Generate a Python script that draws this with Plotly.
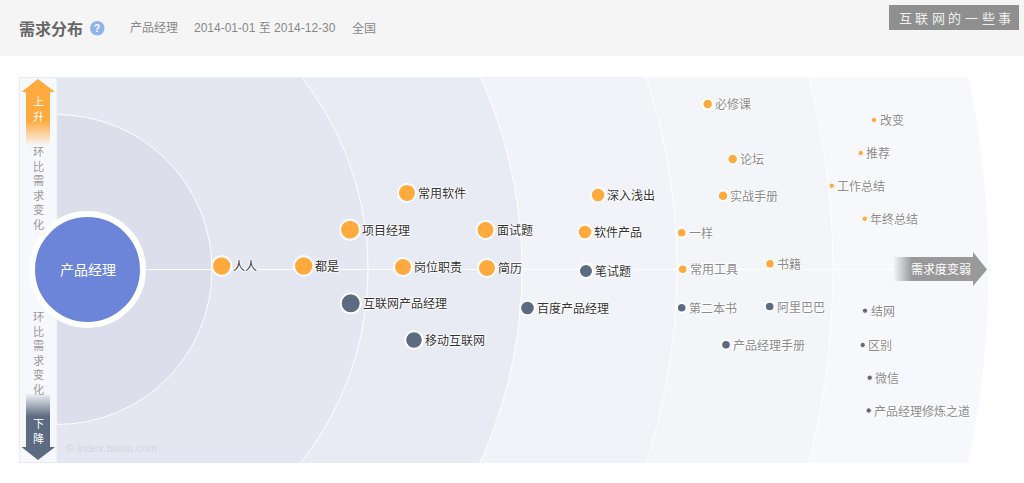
import plotly.graph_objects as go

W, H = 1024, 483
CJK = "Noto Sans CJK SC"

# ---- data (axis units are chart pixels) ----
center_name = "产品经理"
center_x, center_y = 87.5, 269.5
origin_x = 57
ring_radii = [931, 776, 620, 465, 311, 155]
ring_colors = ["#F7F8FB", "#F4F5F9", "#F1F3F8", "#E9EBF4", "#E4E6F1", "#DCDFEB"]

labels = ["人人", "都是", "岗位职责", "简历", "笔试题", "常用软件", "项目经理", "面试题", "深入浅出", "软件产品",
          "互联网产品经理", "移动互联网", "百度产品经理", "必修课", "论坛", "实战手册", "一样", "常用工具", "书籍",
          "第二本书", "阿里巴巴", "产品经理手册", "改变", "推荐", "工作总结", "年终总结", "结网", "区别", "微信",
          "产品经理修炼之道"]
demand = [221.7, 303.7, 403, 487, 586, 407, 350, 485.5, 598, 585,
          350.7, 414, 527.5, 707.7, 732.7, 723, 681.7, 682.7, 770,
          681.7, 769.7, 726, 874, 860.7, 831.7, 864.7, 865, 862.7, 869.7, 868.7]
change = [266, 266, 267, 268, 271, 193, 229.7, 230, 195, 232,
          303.3, 340, 308, 104, 159, 195.7, 232.7, 269.3, 263.7,
          307.7, 306.5, 344.7, 120, 153, 185.7, 218.7, 310.7, 345, 377.7, 410.5]
radius = [8.7, 8.7, 8, 8, 6, 8, 9, 8, 6.3, 6.3,
          9, 7.8, 6.3, 4.3, 4.3, 4.3, 3.8, 3.8, 3.8,
          3.8, 3.8, 3.8, 2.2, 2.2, 2.2, 2.2, 2.2, 2.2, 2.2, 2.2]
trend = ["up", "up", "up", "up", "down", "up", "up", "up", "up", "up",
         "down", "down", "down", "up", "up", "up", "up", "up", "up",
         "down", "down", "down", "up", "up", "up", "up", "down", "down", "down", "down"]
label_dark = [True] * 13 + [False] * 17

title = "需求分布"
subtitle_parts = [("产品经理", 130), ("2014-01-01 至 2014-12-30", 194), ("全国", 351.5)]
side_label = "环比需求变化"
up_label, down_label = "上升", "下降"
right_label = "需求度变弱"
watermark = "互联网的一些事"
credit = "© index.baidu.com"

ORANGE, SLATE, BLUE = "#FFAA3E", "#5C6B82", "#6C85D8"
HALO = "1px 0 1px #fff, -1px 0 1px #fff, 0 1px 1px #fff, 0 -1px 1px #fff"
LATIN_CJK = "Liberation Sans, " + CJK

fig = go.Figure()
shapes, annos = [], []


def px(x):
    return x / W


def py(y):
    return 1 - y / H


def text_paper(x, y, s, size=12, color="#888", anchor="left", weight="normal", family=CJK):
    annos.append(dict(xref="paper", yref="paper", x=px(x), y=py(y), text=s, showarrow=False,
                      xanchor=anchor, yanchor="middle", borderpad=0,
                      font=dict(size=size, color=color, family=family, weight=weight)))


def text_data(x, y, s, size=12, color="#888", anchor="center", xshift=0, shadow="none", weight="normal", family=CJK):
    annos.append(dict(xref="x", yref="y", x=x, y=y, text=s, showarrow=False, xshift=xshift,
                      xanchor=anchor, yanchor="middle", borderpad=0,
                      font=dict(size=size, color=color, family=family, shadow=shadow, weight=weight)))


# header
shapes.append(dict(type="rect", xref="paper", yref="paper", x0=0, x1=1, y0=py(56), y1=1,
                   fillcolor="#F5F5F5", line_width=0, layer="below"))
text_paper(18, 27.5, title, size=16, color="#666", weight="bold")
shapes.append(dict(type="circle", xref="paper", yref="paper", x0=px(90), x1=px(104.5), y0=py(35.5), y1=py(21),
                   fillcolor="#8FB3EA", line_width=0, layer="below"))
text_paper(97.2, 28.5, "?", size=10, color="#FFFFFF", anchor="center", weight="bold", family="Liberation Sans")
for part, xpos in subtitle_parts:
    text_paper(xpos - 1, 28.5, part, size=12, color="#888", family=LATIN_CJK)
shapes.append(dict(type="rect", xref="paper", yref="paper", x0=px(889), x1=px(1019), y0=py(30), y1=py(5),
                   fillcolor="#8F8F8F", line_width=0, layer="below"))
for i, ch in enumerate(watermark):
    text_paper(905 + i * 16.6, 17.5, ch, size=13, color="#F0F0F0", anchor="center")

# rings (clipped by the plot area)
for r, c in zip(ring_radii, ring_colors):
    shapes.append(dict(type="circle", xref="x", yref="y", x0=origin_x - r, x1=origin_x + r,
                       y0=center_y - r, y1=center_y + r, fillcolor=c, layer="below",
                       line=dict(color="#FFFFFF" if r != ring_radii[0] else c, width=1)))
# horizontal guide
shapes.append(dict(type="line", xref="x", yref="y", x0=center_x, x1=900, y0=269.5, y1=269.5,
                   line=dict(color="#FFFFFF", width=1), layer="below"))
# left strip
shapes.append(dict(type="rect", xref="x", yref="y", x0=19.5, x1=57, y0=77.5, y1=462.5,
                   fillcolor="#F7F8FB", line=dict(color="#E8EAF2", width=1), layer="below"))
shapes.append(dict(type="line", xref="x", yref="y", x0=57, x1=640, y0=77.5, y1=77.5,
                   line=dict(color="#ECEEF5", width=1), layer="below"))

# gradient arrows
fig.add_trace(go.Scatter(
    x=[38, 55, 50, 50, 26, 26, 21.5, 38], y=[79, 92, 92, 146, 146, 92, 92, 79],
    mode="lines", line_width=0, fill="toself", hoverinfo="skip", cliponaxis=False,
    fillgradient=dict(type="vertical", colorscale=[[0, "rgba(255,170,62,0)"], [0.38, "rgba(255,170,62,1)"], [1, "rgba(255,170,62,1)"]])))
fig.add_trace(go.Scatter(
    x=[26, 50, 50, 55, 38, 21.5, 26, 26], y=[393, 393, 447, 447, 460, 447, 447, 393],
    mode="lines", line_width=0, fill="toself", hoverinfo="skip", cliponaxis=False,
    fillgradient=dict(type="vertical", colorscale=[[0, "rgba(92,107,130,1)"], [0.65, "rgba(92,107,130,1)"], [1, "rgba(92,107,130,0)"]])))
fig.add_trace(go.Scatter(
    x=[893, 973, 973, 987, 973, 973, 893, 893], y=[257, 257, 252, 269.5, 286, 281, 281, 257],
    mode="lines", line_width=0, fill="toself", hoverinfo="skip", cliponaxis=False,
    fillgradient=dict(type="horizontal", colorscale=[[0, "rgba(153,153,153,0)"], [0.2, "rgba(153,153,153,1)"], [1, "rgba(153,153,153,1)"]])))

# center node
fig.add_trace(go.Scatter(x=[center_x], y=[center_y], mode="markers", hoverinfo="skip", cliponaxis=False,
                         marker=dict(size=111, color=BLUE, opacity=1, line=dict(color="#FFFFFF", width=6))))
# word nodes
for t, col in (("up", ORANGE), ("down", SLATE)):
    idx = [i for i, v in enumerate(trend) if v == t]
    fig.add_trace(go.Scatter(
        x=[demand[i] for i in idx], y=[change[i] for i in idx], mode="markers", hoverinfo="text",
        text=[labels[i] for i in idx], cliponaxis=False,
        marker=dict(size=[2 * radius[i] + (2 if radius[i] > 3 else 1) for i in idx], color=col, opacity=1,
                    line=dict(color="#FFFFFF", width=[2 if radius[i] > 3 else 1 for i in idx]))))

# texts
text_data(center_x, center_y - 0.5, center_name, size=14, color="#FFFFFF")
for i, s in enumerate(labels):
    gap = 2 if radius[i] > 3 else 2.5
    text_data(demand[i], change[i] - 0.5, s, size=12, color="#333333" if label_dark[i] else "#8C8C8C",
              anchor="left", xshift=radius[i] + gap, shadow=HALO)
text_data(38, 187.5, "<br>".join(side_label), size=11.2, color="#999999")
text_data(38, 352, "<br>".join(side_label), size=11.2, color="#999999")
text_data(38, 108.5, "<br>".join(up_label), size=11.2, color="#FFFFFF")
text_data(38, 430, "<br>".join(down_label), size=11.2, color="#FFFFFF")
text_data(940.5, 268.5, right_label, size=12, color="#FFFFFF")
text_data(65, 448, credit, size=11, color="#D5D7E0", anchor="left", family="Liberation Sans")

fig.update_layout(
    width=W, height=H, margin=dict(l=0, r=0, t=0, b=0), showlegend=False,
    paper_bgcolor="#FFFFFF", plot_bgcolor="rgba(0,0,0,0)", shapes=shapes, annotations=annos,
    xaxis=dict(range=[19, 1024], domain=[19 / W, 1], visible=False, fixedrange=True),
    yaxis=dict(range=[463, 77], domain=[1 - 463 / H, 1 - 77 / H], visible=False, fixedrange=True),
)
fig.write_html("out.html", config={"displayModeBar": False},
               post_script="document.body.style.margin='0';document.body.style.overflow='hidden';")
